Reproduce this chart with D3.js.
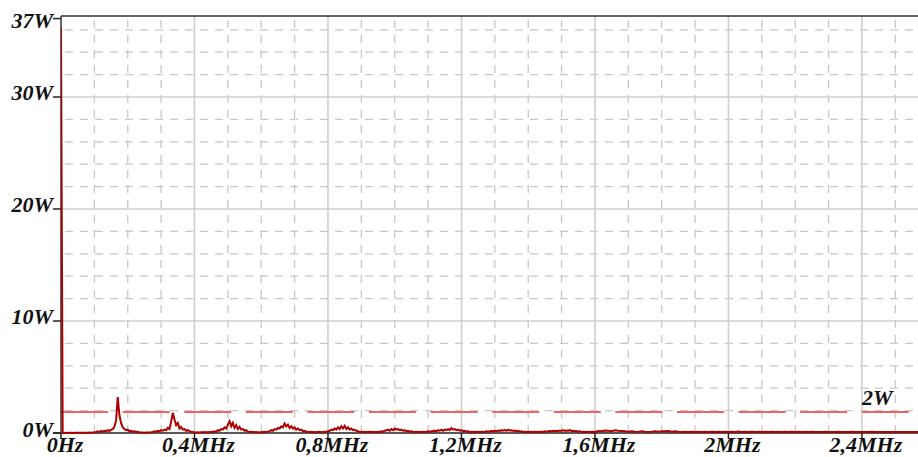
<!DOCTYPE html>
<html>
<head>
<meta charset="utf-8">
<script src="https://cdn.jsdelivr.net/npm/d3@7"></script>
<style>
  html, body { margin: 0; padding: 0; background: #fff; }
  svg { display: block; }
  .lbl { font-family: "Liberation Serif", "Times New Roman", serif; font-weight: bold; font-style: italic; font-size: 22px; fill: #111; }
</style>
</head>
<body>
<svg id="chart" width="918" height="457"></svg>
<script>
// ---- data ----
const yTickValues = [0, 10, 20, 30, 37];
const yTickLabels = ["0W", "10W", "20W", "30W", "37W"];
const xTickValues = [0, 0.4, 0.8, 1.2, 1.6, 2.0, 2.4];
const xTickLabels = ["0Hz", "0,4MHz", "0,8MHz", "1,2MHz", "1,6MHz", "2MHz", "2,4MHz"];
const thresholdW = 2;
const thresholdLabel = "2W";

// spectrum 0 .. 1.60 MHz, step 0.005 MHz (W)
const lowStartMHz = 0, lowStepMHz = 0.005;
const powerLowW = [
  36.2,
  0.02,0.01,0.02,0.01,0.02,0.02,0.01,0.02,0.03,0.02,0.02,0.03,0.02,0.03,0.02,0.03,0.04,0.03,0.05,0.06,
  0.10,0.15,0.08,0.18,0.12,0.20,0.15,0.25,0.18,0.30,0.35,0.55,
  1.10,3.20,1.60,0.90,0.50,0.35,0.25,0.30,0.15,0.20,0.12,0.15,0.10,0.12,
  0.05,0.04,0.05,0.03,0.04,0.05,0.04,0.06,0.10,0.15,
  0.12,0.20,0.15,0.25,0.20,0.30,0.25,0.45,0.35,1.00,
  1.80,1.20,0.70,0.90,0.40,0.55,0.30,0.35,0.20,0.25,
  0.15,0.12,0.08,0.06,0.05,0.06,0.05,0.07,0.06,0.08,
  0.05,0.08,0.06,0.10,0.08,0.15,0.12,0.25,0.20,0.35,
  0.30,0.50,0.40,0.75,1.05,0.60,0.90,0.45,0.70,0.35,
  0.55,0.30,0.35,0.20,0.25,0.12,0.10,0.08,0.10,0.06,
  0.08,0.05,0.07,0.06,0.08,0.10,
  0.08,0.12,0.15,0.25,0.20,0.35,0.30,0.45,0.40,0.60,
  0.50,0.85,0.60,0.75,0.45,0.60,0.40,0.50,0.30,0.40,
  0.25,0.30,0.15,0.20,0.10,0.12,0.08,0.10,0.07,0.09,
  0.06,0.08,0.10,0.07,
  0.10,0.12,0.10,0.15,0.20,0.30,0.25,0.40,0.30,0.50,
  0.35,0.60,0.40,0.65,0.35,0.50,0.30,0.40,0.25,0.30,
  0.20,0.15,0.10,0.12,0.08,0.10,0.07,0.10,0.08,0.10,
  0.08,0.10,0.09,0.12,
  0.10,0.15,0.12,0.20,0.25,0.30,0.20,0.35,0.25,0.40,
  0.30,0.35,0.25,0.30,0.20,0.25,0.15,0.20,0.12,0.15,
  0.10,0.12,0.08,0.10,0.08,0.10,0.12,0.10,0.12,0.15,
  0.12,0.15,0.18,0.20,0.15,0.25,0.20,0.30,0.20,0.30,
  0.25,0.35,0.25,0.45,0.30,0.35,0.25,0.30,0.20,0.25,
  0.15,0.20,0.12,0.15,0.10,0.12,0.10,0.12,0.10,0.12,
  0.10,0.12,0.10,0.12,
  0.15,0.12,0.15,0.18,0.15,0.20,0.15,0.22,0.18,0.25,
  0.20,0.28,0.20,0.30,0.22,0.25,0.18,0.22,0.15,0.20,
  0.12,0.15,0.10,0.12,0.10,0.12,0.10,0.12,0.10,0.12,
  0.10,0.12,0.10,0.12,
  0.12,0.15,0.12,0.15,0.18,0.15,0.20,0.15,0.20,0.18,
  0.22,0.18,0.25,0.18,0.22,0.20,0.25,0.18,0.20,0.15,
  0.18,0.12,0.15,0.10,0.12,0.10,0.12,0.10,0.12,0.10,
  0.12,0.10
];
// spectrum 1.61 .. 2.57 MHz, step 0.01 MHz (W)
const highStartMHz = 1.61, highStepMHz = 0.01;
const powerHighW = [
  0.18,0.15,0.22,0.20,0.15,0.25,0.20,0.18,0.15,0.12,
  0.15,0.12,0.10,0.15,0.12,0.10,0.12,0.15,0.12,0.15,
  0.15,0.18,0.12,0.15,0.12,0.10,0.12,0.10,0.12,0.10,
  0.12,0.10,0.12,0.10,0.12,0.10,0.12,0.10,0.12,0.10,
  0.12,0.10,0.13,0.10,0.12,0.09,0.12,0.10,0.11,0.09,
  0.12,0.10,0.11,0.09,0.12,0.10,0.11,0.09,0.12,0.10,
  0.11,0.09,0.12,0.10,0.11,0.09,0.10,0.08,0.11,0.09,
  0.10,0.08,0.11,0.09,0.10,0.08,0.11,0.09,0.10,0.08,
  0.10,0.08,0.11,0.09,0.10,0.08,0.10,0.08,0.09,0.08,
  0.10,0.08,0.09,0.08,0.10,0.08,0.09
];

(function () {
  // ---- layout ----
  const pLeft = 61, pRight = 918, pTop = 16, pBottom = 433;
  const svg = d3.select("#chart");

  const x = d3.scaleLinear().domain([0, 2.568]).range([pLeft, pRight]);
  const y = d3.scaleLinear().domain([0, 37.23]).range([pBottom, pTop]);

  const points = powerLowW.map((v, i) => [lowStartMHz + i * lowStepMHz, v])
    .concat(powerHighW.map((v, i) => [highStartMHz + i * highStepMHz, v]));

  svg.append("defs").append("clipPath").attr("id", "plotclip")
    .append("rect").attr("x", pLeft).attr("y", pTop - 2).attr("width", pRight - pLeft).attr("height", pBottom - pTop + 4);

  // ---- grid ----
  const grid = svg.append("g");
  const minorX = d3.range(1, 26).map(k => k * 0.1).filter(v => Math.abs(v / 0.4 - Math.round(v / 0.4)) > 1e-6);
  const majorX = xTickValues.filter(v => v > 0);
  const minorY = d3.range(1, 19).map(k => k * 2).filter(v => v % 10 !== 0);
  const majorY = [10, 20, 30];

  grid.selectAll(".mnx").data(minorX).enter().append("line")
    .attr("x1", d => x(d)).attr("x2", d => x(d)).attr("y1", pTop).attr("y2", pBottom)
    .attr("stroke", "#c8c8c8").attr("stroke-width", 1.3).attr("stroke-dasharray", "8,7").attr("stroke-dashoffset", -4);
  grid.selectAll(".mny").data(minorY).enter().append("line")
    .attr("x1", pLeft).attr("x2", pRight).attr("y1", d => y(d)).attr("y2", d => y(d))
    .attr("stroke", "#c8c8c8").attr("stroke-width", 1.3).attr("stroke-dasharray", "8,7").attr("stroke-dashoffset", -4);
  grid.selectAll(".mjx").data(majorX).enter().append("line")
    .attr("x1", d => x(d)).attr("x2", d => x(d)).attr("y1", pTop).attr("y2", pBottom)
    .attr("stroke", "#cfcfcf").attr("stroke-width", 1.6);
  grid.selectAll(".mjy").data(majorY).enter().append("line")
    .attr("x1", pLeft).attr("x2", pRight).attr("y1", d => y(d)).attr("y2", d => y(d))
    .attr("stroke", "#cfcfcf").attr("stroke-width", 1.6);

  // ---- threshold line ----
  const ty = Math.round(y(thresholdW)) + 1;
  svg.append("line")
    .attr("x1", pLeft).attr("x2", 910).attr("y1", ty).attr("y2", ty)
    .attr("stroke", "#f06464").attr("stroke-width", 2).attr("stroke-dasharray", "47,14.6");
  svg.append("text").attr("class", "lbl")
    .attr("x", 862).attr("y", 405).text(thresholdLabel);

  // ---- axes ----
  const axes = svg.append("g");
  axes.append("line").attr("x1", pLeft).attr("x2", pRight).attr("y1", pTop).attr("y2", pTop)
    .attr("stroke", "#333").attr("stroke-width", 1.5);
  axes.append("line").attr("x1", pLeft - 8).attr("x2", pRight).attr("y1", pBottom).attr("y2", pBottom)
    .attr("stroke", "#222").attr("stroke-width", 1.5);
  axes.append("line").attr("x1", pLeft).attr("x2", pLeft).attr("y1", pTop).attr("y2", pBottom)
    .attr("stroke", "#333").attr("stroke-width", 1.5);
  axes.selectAll(".yt").data(yTickValues).enter().append("line")
    .attr("x1", pLeft - 8).attr("x2", pLeft).attr("y1", d => y(d)).attr("y2", d => y(d))
    .attr("stroke", "#222").attr("stroke-width", 1.5);
  axes.selectAll(".yl").data(yTickValues).enter().append("text").attr("class", "lbl")
    .attr("text-anchor", "end")
    .attr("x", 53)
    .attr("y", d => d === 37 ? 28 : y(d) + 3.5)
    .text((d, i) => yTickLabels[i]);
  axes.selectAll(".xt").data(xTickValues).enter().append("line")
    .attr("x1", d => x(d)).attr("x2", d => x(d)).attr("y1", pBottom).attr("y2", pBottom + 6)
    .attr("stroke", "#222").attr("stroke-width", 1.5);
  axes.selectAll(".xl").data(xTickValues).enter().append("text").attr("class", "lbl")
    .attr("text-anchor", "middle")
    .attr("x", d => x(d) + 4)
    .attr("y", 452)
    .text((d, i) => xTickLabels[i]);

  // ---- spectrum ----
  const line = d3.line().x(d => x(d[0])).y(d => y(d[1]));
  svg.append("path").datum(points)
    .attr("clip-path", "url(#plotclip)")
    .attr("fill", "none").attr("stroke", "#b00000").attr("stroke-width", 2)
    .attr("d", line);
})();
</script>
</body>
</html>
